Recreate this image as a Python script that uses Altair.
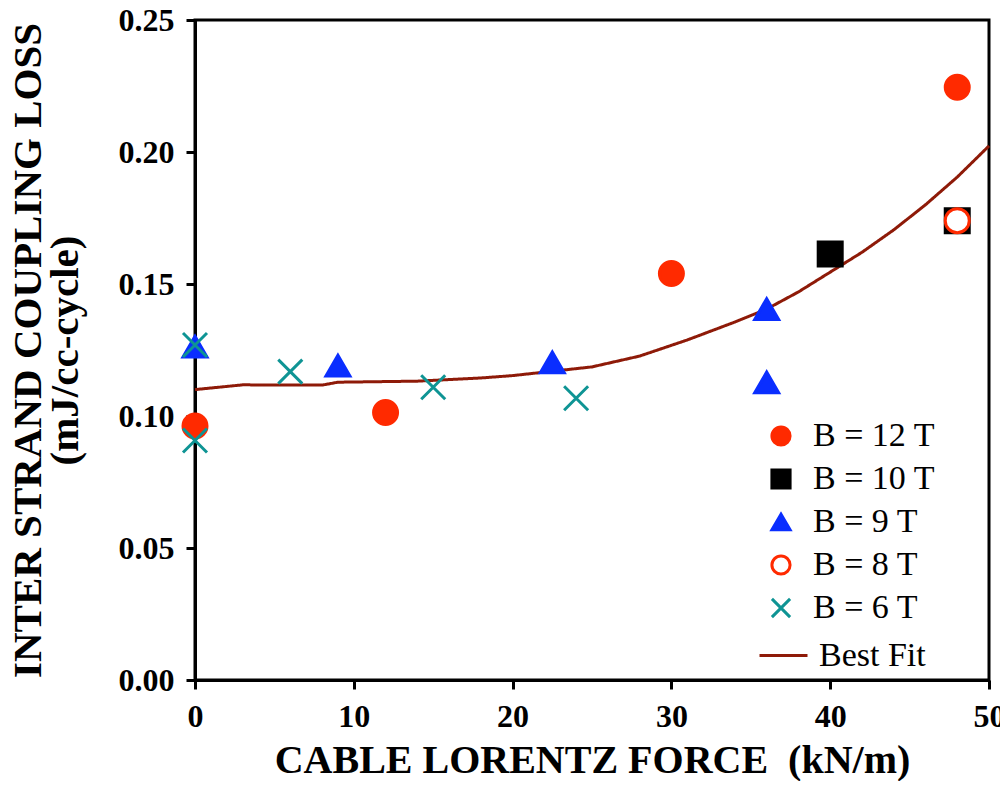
import altair as alt
import pandas as pd

# ---- data ----
s12_x = [0, 12, 30, 48]
s12_y = [0.0962, 0.1013, 0.154, 0.2245]
s10_x = [40, 48]
s10_y = [0.1614, 0.174]
s9_x = [0, 9, 22.5, 36, 36]
s9_y = [0.1263, 0.1191, 0.1203, 0.1405, 0.1127]
s8_x = [48]
s8_y = [0.174]
s6_x = [0, 0, 6, 15, 24]
s6_y = [0.1269, 0.0907, 0.1168, 0.1109, 0.1067]

fit_x = [0, 3, 8, 9, 14, 18, 20, 25, 28, 31, 34, 36, 38, 40, 42, 44, 46, 48, 50]
fit_y = [0.110, 0.1118, 0.1117, 0.1128, 0.1132, 0.1144, 0.1153, 0.1186, 0.1227,
         0.1288, 0.1356, 0.1405, 0.147, 0.1545, 0.162, 0.1705, 0.180, 0.1905, 0.2023]

series_names = ["B = 12 T", "B = 10 T", "B = 9 T", "B = 8 T", "B = 6 T"]
marker_keys = ["m12", "m10", "m9", "m8", "m6"]
fill_colors = ["#FF2A00", "#000000", "#0A2EFF", "#FFFFFF", "transparent"]
stroke_colors = ["#FF2A00", "#000000", "#0A2EFF", "#FF2A00", "#0E9494"]
shapes = ["circle", "square", "triangle-up", "circle", "M-1,-1L1,1M-1,1L1,-1"]
marker_sizes = [576, 576, 680, 380, 784]

rows = []
for name, key, xs, ys in zip(series_names, marker_keys,
                             [s12_x, s10_x, s9_x, s8_x, s6_x],
                             [s12_y, s10_y, s9_y, s8_y, s6_y]):
    for x, y in zip(xs, ys):
        rows.append({"force": x, "loss": y, "series": name, "marker": key})
pts = pd.DataFrame(rows)

fit = pd.DataFrame({"force": fit_x, "loss": fit_y, "fit": ["Best Fit"] * len(fit_x)})

FONT = "Liberation Serif"

xscale = alt.Scale(domain=[0, 50], nice=False)
yscale = alt.Scale(domain=[0, 0.25], nice=False)

xaxis = alt.Axis(values=[0, 10, 20, 30, 40, 50], title="CABLE LORENTZ FORCE\u00a0\u00a0(kN/m)",
                 grid=False, titlePadding=8, titleFontSize=40, labelFlush=False)
yaxis = alt.Axis(values=[0, 0.05, 0.10, 0.15, 0.20, 0.25], format=".2f",
                 title=["INTER STRAND COUPLING LOSS", "(mJ/cc-cycle)"],
                 grid=False, titlePadding=32, titleLineHeight=37, titleFontSize=41,
                 labelFlush=False)

line = alt.Chart(fit).mark_line(color="#8E1A08", strokeWidth=3).encode(
    x=alt.X("force:Q", scale=xscale, axis=xaxis),
    y=alt.Y("loss:Q", scale=yscale, axis=yaxis),
    strokeDash=alt.StrokeDash(
        "fit:N", title=None,
        scale=alt.Scale(domain=["Best Fit"], range=[[1, 0]]),
        legend=alt.Legend(orient="none", legendX=563, legendY=610,
                          symbolType="stroke", symbolSize=2304,
                          symbolStrokeColor="#8E1A08", symbolStrokeWidth=3,
                          labelOffset=10, labelFontSize=34, labelFont=FONT,
                          labelFontWeight="normal", padding=0),
    ),
)

legend_pts = alt.Legend(orient="none", legendX=569, legendY=399, symbolSize=330,
                        symbolStrokeWidth=3, labelOffset=15, labelFontSize=34,
                        labelFont=FONT, labelFontWeight="normal", rowPadding=9,
                        padding=0)

points = alt.Chart(pts).mark_point(filled=True, strokeWidth=3, opacity=1).encode(
    x=alt.X("force:Q", scale=xscale, axis=xaxis),
    y=alt.Y("loss:Q", scale=yscale, axis=yaxis),
    fill=alt.Fill("series:N", title=None,
                  scale=alt.Scale(domain=series_names, range=fill_colors),
                  legend=legend_pts),
    stroke=alt.Stroke("series:N", title=None,
                      scale=alt.Scale(domain=series_names, range=stroke_colors),
                      legend=legend_pts),
    shape=alt.Shape("series:N", title=None,
                    scale=alt.Scale(domain=series_names, range=shapes),
                    legend=legend_pts),
    size=alt.Size("marker:N", scale=alt.Scale(domain=marker_keys, range=marker_sizes),
                  legend=None),
)

chart = alt.layer(line, points).properties(
    width=794, height=660,
    autosize=alt.AutoSizeParams(type="none"),
    padding={"left": 187, "top": 12, "right": 11, "bottom": 101},
).configure_view(
    stroke="black", strokeWidth=3
).configure_axis(
    domainColor="black", domainWidth=3, tickColor="black", tickWidth=3, tickSize=9,
    labelFont=FONT, labelFontSize=32, labelFontWeight="bold", labelColor="black",
    labelPadding=12, titleFont=FONT, titleFontWeight="bold",
    titleColor="black"
).configure_legend(
    labelColor="black"
)

chart.save("out.html", embed_options={"renderer": "svg", "actions": False})
